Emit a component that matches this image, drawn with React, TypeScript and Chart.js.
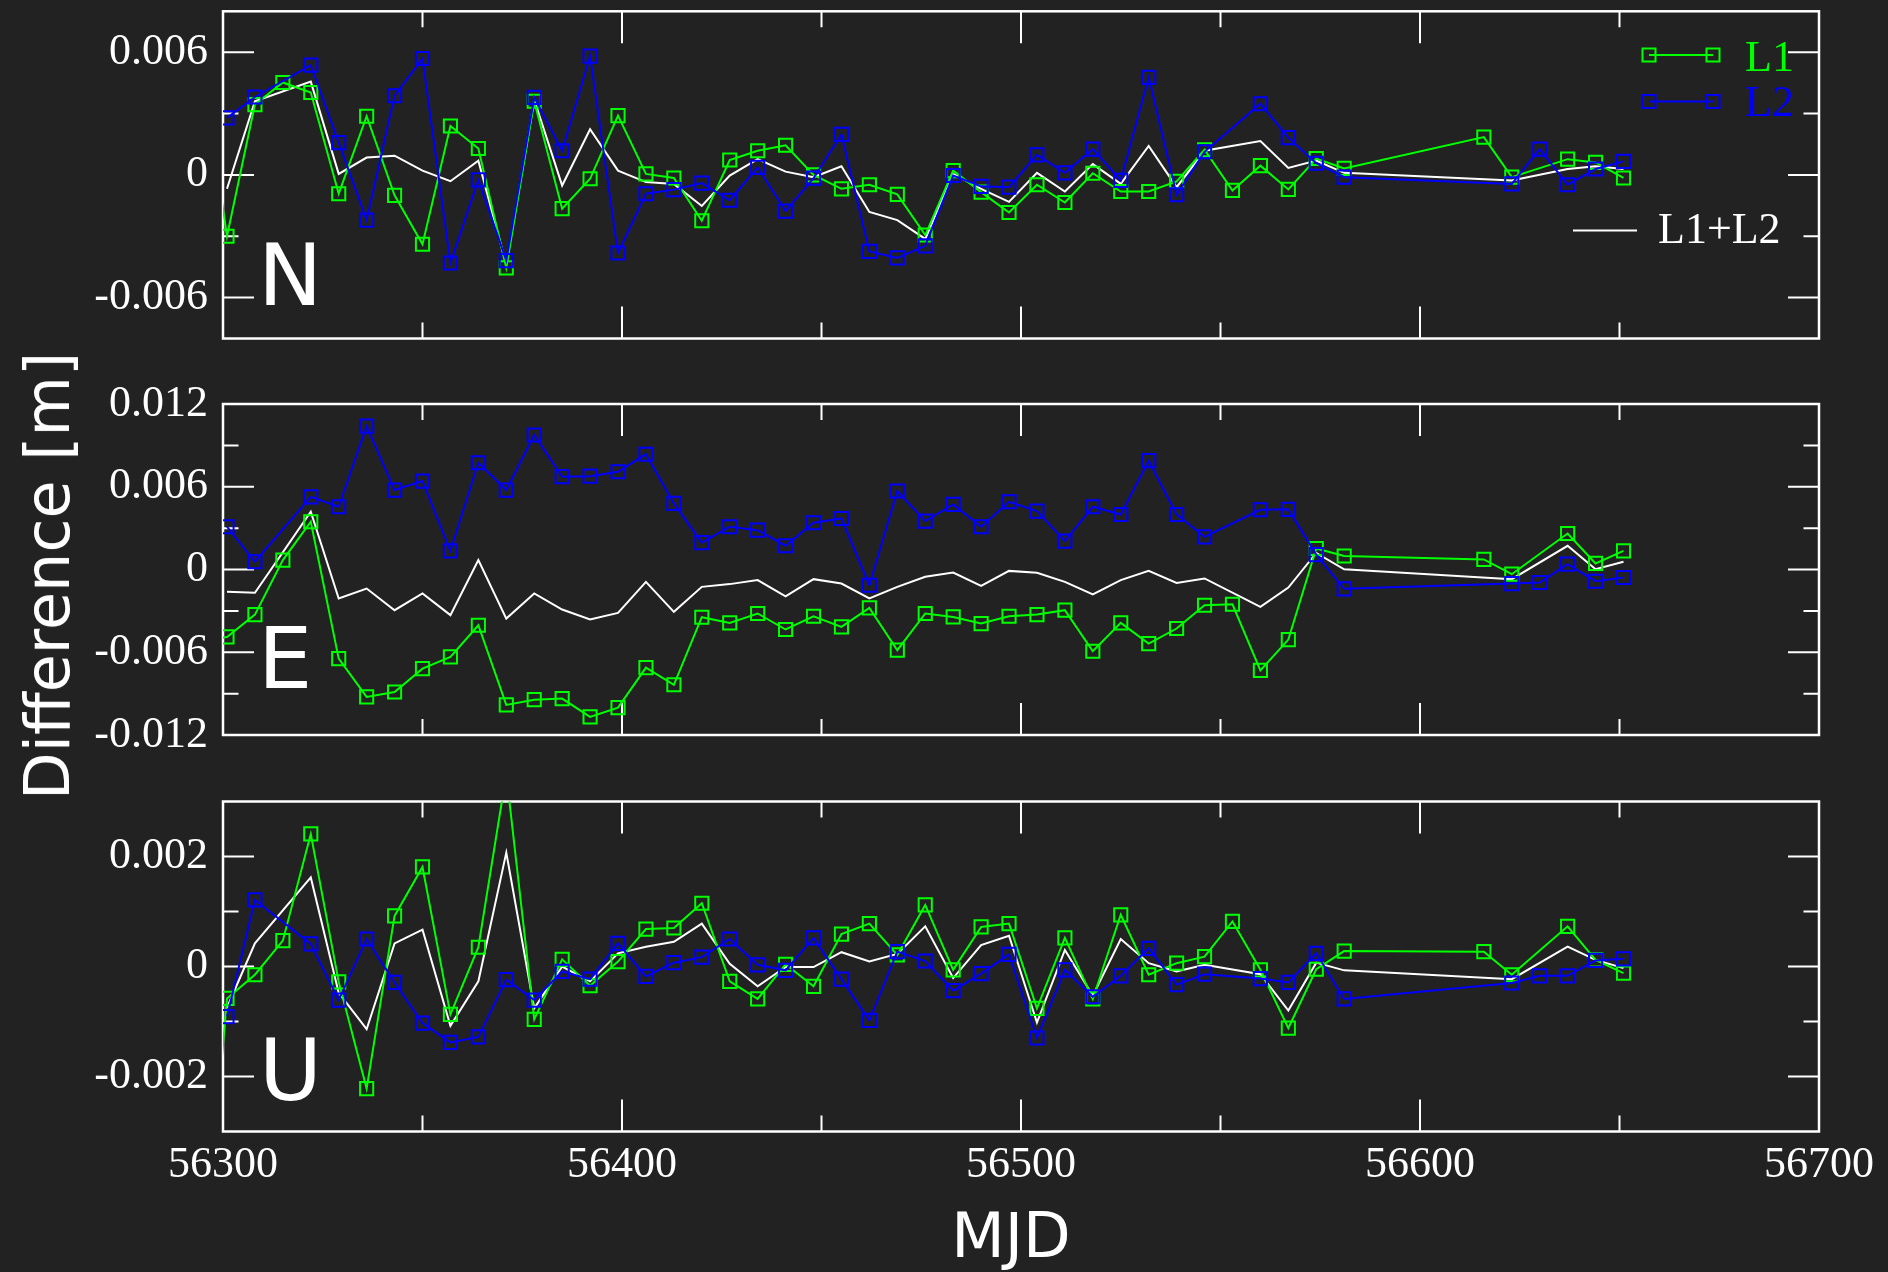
import React, { useEffect, useRef } from "react";
import { Chart, registerables } from "chart.js";

Chart.register(...registerables);

// ---------- data ----------
// epochs (MJD); first one lies just left of the plotted range
const MJD = [
  56294,
  56301, 56308, 56315, 56322, 56329, 56336, 56343, 56350, 56357, 56364,
  56371, 56378, 56385, 56392, 56399, 56406, 56413, 56420, 56427, 56434,
  56441, 56448, 56455, 56462, 56469, 56476, 56483, 56490, 56497, 56504,
  56511, 56518, 56525, 56532, 56539, 56546, 56553, 56560, 56567, 56574,
  56581,
  56616, 56623, 56630, 56637, 56644, 56651,
];

// North component [m]
const N_L1 = [
  0.0065,
  -0.0030, 0.00344, 0.00452, 0.00403, -0.00092, 0.00287, -0.00100, -0.00339, 0.00239, 0.00129,
  -0.00455, 0.00360, -0.00165, -0.00019, 0.00290, 0.00005, -0.00015, -0.00224, 0.00073, 0.00118,
  0.00145, 0.00000, -0.00068, -0.00048, -0.00095, -0.00294, 0.00021, -0.00084, -0.00184, -0.00048,
  -0.00135, 0.00008, -0.00081, -0.00081, -0.00032, 0.00123, -0.00076, 0.00045, -0.00071, 0.00080,
  0.00032,
  0.00185, -0.00011, null, 0.00077, 0.00061, -0.00015,
];
const N_L2 = [
  null,
  0.00279, 0.00381, null, 0.00537, 0.00158, -0.00221, 0.00387, 0.00569, -0.00431, -0.00024,
  -0.00419, 0.00379, 0.00118, 0.00581, -0.00382, -0.00092, -0.00072, -0.00040, -0.00124, 0.00037,
  -0.00177, -0.00016, 0.00198, -0.00374, -0.00406, -0.00347, -0.00003, -0.00056, -0.00060, 0.00098,
  0.00010, 0.00126, -0.00027, 0.00477, -0.00097, 0.00113, null, 0.00348, 0.00182, 0.00057,
  -0.00011,
  null, -0.00044, 0.00126, -0.00048, 0.00029, 0.00066,
];
const N_C = [
  null,
  -0.00068, 0.00360, null, 0.00456, 0.00005, 0.00085, 0.00094, 0.00021, -0.00031, 0.00069,
  -0.00439, 0.00368, -0.00052, 0.00223, 0.00021, -0.00035, -0.00044, -0.00152, -0.00003, 0.00077,
  0.00016, -0.00011, 0.00042, -0.00181, -0.00221, -0.00313, 0.00005, -0.00068, -0.00132, 0.00010,
  -0.00081, 0.00053, -0.00044, 0.00142, -0.00060, 0.00118, null, 0.00166, 0.00034, 0.00070,
  0.00010,
  null, -0.00027, null, 0.00029, 0.00042, 0.00029,
];

// East component [m]
const E_L1 = [
  -0.0052,
  -0.00489, -0.00327, 0.00068, 0.00346, -0.00646, -0.00924, -0.00888, -0.00719, -0.00634, -0.00404,
  -0.00982, -0.00944, -0.00936, -0.01069, -0.01002, -0.00711, -0.00836, -0.00346, -0.00387, -0.00319,
  -0.00435, -0.00339, -0.00416, -0.00278, -0.00585, -0.00319, -0.00344, -0.00392, -0.00339, -0.00327,
  -0.00295, -0.00593, -0.00387, -0.00537, -0.00428, -0.00259, -0.00252, -0.00731, -0.00508, 0.00152,
  0.00098,
  0.00073, -0.00034, null, 0.00261, 0.00044, 0.00135,
];
const E_L2 = [
  null,
  0.00310, 0.00056, null, 0.00527, 0.00455, 0.01040, 0.00576, 0.00641, 0.00135, 0.00774,
  0.00576, 0.00975, 0.00673, 0.00677, 0.00709, 0.00836, 0.00479, 0.00195, 0.00310, 0.00285,
  0.00172, 0.00339, 0.00370, -0.00114, 0.00569, 0.00351, 0.00472, 0.00310, 0.00491, 0.00423,
  0.00206, 0.00455, 0.00399, 0.00789, 0.00399, 0.00237, null, 0.00433, 0.00436, 0.00108,
  -0.00140,
  null, -0.00102, -0.00094, 0.00039, -0.00085, -0.00058,
];
const E_C = [
  null,
  -0.00162, -0.00169, null, 0.00419, -0.00210, -0.00138, -0.00295, -0.00174, -0.00331, 0.00068,
  -0.00356, -0.00174, -0.00290, -0.00363, -0.00315, -0.00090, -0.00307, -0.00126, -0.00106, -0.00077,
  -0.00194, -0.00070, -0.00102, -0.00210, -0.00126, -0.00053, -0.00022, -0.00119, -0.00010, -0.00024,
  -0.00090, -0.00181, -0.00077, -0.00010, -0.00097, -0.00065, null, -0.00271, -0.00131, 0.00120,
  0.00001,
  null, -0.00070, null, 0.00172, 0.00002, 0.00056,
];

// Up component [m]
const U_L1 = [
  -0.0065,
  -0.00058, -0.00015, 0.00047, 0.00241, -0.00028, -0.00222, 0.00092, 0.00181, -0.00087, 0.00035,
  0.00350, -0.00096, 0.00013, -0.00035, 0.00009, 0.00068, 0.00070, 0.00115, -0.00027, -0.00059,
  0.00004, -0.00036, 0.00059, 0.00078, 0.00021, 0.00112, -0.00006, 0.00072, 0.00078, -0.00076,
  0.00052, -0.00059, 0.00094, -0.00015, 0.00006, 0.00018, 0.00082, -0.00006, -0.00112, -0.00005,
  0.00028,
  0.00027, -0.00015, null, 0.00073, 0.00012, -0.00012,
];
const U_L2 = [
  null,
  -0.00091, 0.00121, null, 0.00041, -0.00061, 0.00050, -0.00029, -0.00103, -0.00138, -0.00128,
  -0.00024, -0.00061, -0.00009, -0.00023, 0.00042, -0.00018, 0.00007, 0.00017, 0.00050, 0.00003,
  -0.00007, 0.00052, -0.00023, -0.00098, 0.00027, 0.00010, -0.00044, -0.00013, 0.00022, -0.00130,
  -0.00006, -0.00055, -0.00017, 0.00033, -0.00033, -0.00014, null, -0.00022, -0.00029, 0.00024,
  -0.00059,
  null, -0.00030, -0.00017, -0.00017, 0.00011, 0.00014,
];
const U_C = [
  null,
  -0.00075, 0.00042, null, 0.00162, -0.00048, -0.00114, 0.00042, 0.00067, -0.00108, -0.00027,
  0.00207, -0.00076, 0.00000, -0.00027, 0.00024, 0.00036, 0.00045, 0.00078, 0.00005, -0.00036,
  -0.00001, -0.00001, 0.00026, 0.00009, 0.00023, 0.00073, -0.00021, 0.00039, 0.00056, -0.00102,
  0.00030, -0.00053, 0.00050, 0.00006, -0.00009, 0.00003, null, -0.00014, -0.00080, 0.00007,
  -0.00007,
  null, -0.00023, null, 0.00036, 0.00012, -0.00003,
];

// axes
const X_MIN = 56300;
const X_MAX = 56700;
const X_TICKS = [56300, 56400, 56500, 56600, 56700];
const X_TICK_LABELS = ["56300", "56400", "56500", "56600", "56700"];
const X_MINOR = [56350, 56450, 56550, 56650];

const N_TICKS = [-0.006, 0, 0.006];
const N_TICK_LABELS = ["-0.006", "0", "0.006"];
const N_MINOR = [-0.003, 0.003];
const E_TICKS = [-0.012, -0.006, 0, 0.006, 0.012];
const E_TICK_LABELS = ["-0.012", "-0.006", "0", "0.006", "0.012"];
const E_MINOR = [-0.009, -0.003, 0.003, 0.009];
const U_TICKS = [-0.002, 0, 0.002];
const U_TICK_LABELS = ["-0.002", "0", "0.002"];
const U_MINOR = [-0.001, 0.001];

const SERIES_NAMES = ["L1", "L2", "L1+L2"];

// ---------- styles / layout ----------
const BG = "#222222";
const GREEN = "#00ff00";
const BLUE = "#0000ff";
const WHITE = "#ffffff";
const SERIF = "'Liberation Serif', 'Times New Roman', serif";
const SANS = "'DejaVu Sans', Verdana, sans-serif";

const W = 1888;
const PLOT_LEFT = 223;
const PLOT_RIGHT = 1819;

type PanelCfg = {
  letter: string;
  l1: (number | null)[];
  l2: (number | null)[];
  c: (number | null)[];
  min: number;
  max: number;
  ticks: number[];
  labels: string[];
  minor: number[];
  top: number;
  height: number;
  padTop: number;
  padBottom: number;
  xAxis: boolean;
  letterX: number;
  letterY: number;
  legend: boolean;
};

const PANELS: PanelCfg[] = [
  {
    letter: "N", l1: N_L1, l2: N_L2, c: N_C, min: -0.008, max: 0.008,
    ticks: N_TICKS, labels: N_TICK_LABELS, minor: N_MINOR,
    top: 0, height: 370, padTop: 7, padBottom: 31.5, xAxis: false,
    letterX: 258, letterY: 305, legend: true,
  },
  {
    letter: "E", l1: E_L1, l2: E_L2, c: E_C, min: -0.012, max: 0.012,
    ticks: E_TICKS, labels: E_TICK_LABELS, minor: E_MINOR,
    top: 370, height: 400, padTop: 34, padBottom: 35, xAxis: false,
    letterX: 258, letterY: 688, legend: false,
  },
  {
    letter: "U", l1: U_L1, l2: U_L2, c: U_C, min: -0.003, max: 0.003,
    ticks: U_TICKS, labels: U_TICK_LABELS, minor: U_MINOR,
    top: 770, height: 502, padTop: 31.5, padBottom: 0, xAxis: true,
    letterX: 259, letterY: 1100, legend: false,
  },
];

const X_AXIS_HEIGHT = 502 - 361.5;

function makeFramePlugin(p: PanelCfg) {
  return {
    id: "graceFrame" + p.letter,
    beforeDatasetsDraw(chart: any) {
      const { ctx, chartArea: a, scales } = chart;
      const xs = scales.x;
      const ys = scales.y;
      ctx.save();
      ctx.strokeStyle = WHITE;
      ctx.lineWidth = 2;
      ctx.beginPath();
      const xt = (vals: number[], len: number) => {
        for (const v of vals) {
          const px = xs.getPixelForValue(v);
          ctx.moveTo(px, a.bottom);
          ctx.lineTo(px, a.bottom - len);
          ctx.moveTo(px, a.top);
          ctx.lineTo(px, a.top + len);
        }
      };
      const yt = (vals: number[], len: number) => {
        for (const v of vals) {
          const py = ys.getPixelForValue(v);
          ctx.moveTo(a.left, py);
          ctx.lineTo(a.left + len, py);
          ctx.moveTo(a.right, py);
          ctx.lineTo(a.right - len, py);
        }
      };
      xt(X_TICKS, 32);
      xt(X_MINOR, 16);
      yt(p.ticks, 31);
      yt(p.minor, 15.5);
      ctx.stroke();
      ctx.lineWidth = 2.5;
      ctx.strokeRect(a.left, a.top, a.right - a.left, a.bottom - a.top);
      ctx.restore();
    },
    afterDatasetsDraw(chart: any) {
      const { ctx } = chart;
      ctx.save();
      ctx.fillStyle = WHITE;
      ctx.textBaseline = "alphabetic";
      ctx.textAlign = "left";
      ctx.font = `86px ${SANS}`;
      ctx.fillText(p.letter, p.letterX, p.letterY - p.top);
      if (p.legend) {
        const row = (y: number, color: string, text: string, baseline: number, markers: boolean, x0: number, x1: number, tx: number) => {
          ctx.strokeStyle = color;
          ctx.lineWidth = 2;
          ctx.beginPath();
          ctx.moveTo(x0, y);
          ctx.lineTo(x1, y);
          ctx.stroke();
          if (markers) {
            const s = 13;
            ctx.strokeRect(x0 - s / 2, y - s / 2, s, s);
            ctx.strokeRect(x1 - s / 2, y - s / 2, s, s);
          }
          ctx.fillStyle = color;
          ctx.font = `44px ${SERIF}`;
          ctx.fillText(text, tx, baseline);
        };
        row(55, GREEN, SERIES_NAMES[0], 70.5, true, 1649, 1713, 1745);
        row(101.5, BLUE, SERIES_NAMES[1], 116, true, 1649, 1713, 1745);
        row(230.5, WHITE, SERIES_NAMES[2], 242.5, false, 1573, 1637, 1658);
      }
      ctx.restore();
    },
  };
}

function dataset(label: string, ys: (number | null)[], color: string, markers: boolean) {
  return {
    label,
    data: MJD.map((x, i) => ({ x, y: ys[i] })),
    borderColor: color,
    backgroundColor: color,
    borderWidth: 2,
    pointStyle: "rect",
    pointRadius: markers ? 9.3 : 0,
    pointHoverRadius: markers ? 9.3 : 0,
    pointBorderWidth: 2,
    pointBorderColor: color,
    pointBackgroundColor: "rgba(0,0,0,0)",
    spanGaps: true,
    tension: 0,
  };
}

function buildChart(canvas: HTMLCanvasElement, p: PanelCfg) {
  const serifFont = { family: SERIF, size: 44 };
  const zeroPad = (s: any) => {
    s.paddingTop = 0;
    s.paddingBottom = 0;
    s.paddingLeft = 0;
    s.paddingRight = 0;
  };
  const xScale: any = {
    type: "linear",
    min: X_MIN,
    max: X_MAX,
    display: p.xAxis,
    position: "bottom",
    grid: { display: false, drawTicks: false },
    border: { display: false },
    afterBuildTicks: (s: any) => {
      s.ticks = X_TICKS.map((v) => ({ value: v }));
    },
    afterFit: (s: any) => {
      s.height = p.xAxis ? X_AXIS_HEIGHT : 0;
      zeroPad(s);
    },
    ticks: {
      color: WHITE,
      font: serifFont,
      padding: 8,
      autoSkip: false,
      maxRotation: 0,
      minRotation: 0,
      callback: (_v: any, i: number) => X_TICK_LABELS[i],
    },
  };
  const yScale: any = {
    type: "linear",
    min: p.min,
    max: p.max,
    position: "left",
    grid: { display: false, drawTicks: false },
    border: { display: false },
    afterBuildTicks: (s: any) => {
      s.ticks = p.ticks.map((v) => ({ value: v }));
    },
    afterFit: (s: any) => {
      s.width = PLOT_LEFT;
      zeroPad(s);
    },
    ticks: {
      color: WHITE,
      font: serifFont,
      padding: 15,
      autoSkip: false,
      callback: (_v: any, i: number) => p.labels[i],
    },
  };
  return new Chart(canvas, {
    type: "line",
    data: {
      datasets: [
        dataset(SERIES_NAMES[1], p.l2, BLUE, true),
        dataset(SERIES_NAMES[0], p.l1, GREEN, true),
        dataset(SERIES_NAMES[2], p.c, WHITE, false),
      ] as any,
    },
    options: {
      responsive: false,
      animation: false,
      devicePixelRatio: 1,
      events: [],
      layout: {
        padding: { left: 0, right: W - PLOT_RIGHT, top: p.padTop, bottom: p.padBottom },
      },
      plugins: {
        legend: { display: false },
        tooltip: { enabled: false },
      },
      scales: { x: xScale, y: yScale },
    } as any,
    plugins: [makeFramePlugin(p)],
  });
}

export default function App() {
  const r0 = useRef<HTMLCanvasElement>(null);
  const r1 = useRef<HTMLCanvasElement>(null);
  const r2 = useRef<HTMLCanvasElement>(null);
  const refs = [r0, r1, r2];

  useEffect(() => {
    const charts = PANELS.map((p, i) => buildChart(refs[i].current as HTMLCanvasElement, p));
    return () => charts.forEach((c) => c.destroy());
  }, []);

  return (
    <div
      style={{
        position: "absolute",
        left: 0,
        top: 0,
        width: W,
        height: 1272,
        background: BG,
        overflow: "hidden",
      }}
    >
      {PANELS.map((p, i) => (
        <canvas
          key={p.letter}
          ref={refs[i]}
          width={W}
          height={p.height}
          style={{ position: "absolute", left: 0, top: p.top, width: W, height: p.height }}
        />
      ))}
      <div
        style={{
          position: "absolute",
          left: 48,
          top: 576,
          transform: "translate(-50%, -50%) rotate(-90deg)",
          fontFamily: SANS,
          fontSize: 62,
          lineHeight: 1,
          color: WHITE,
          whiteSpace: "nowrap",
        }}
      >
        Difference [m]
      </div>
      <div
        style={{
          position: "absolute",
          left: 1011,
          top: 1236,
          transform: "translate(-50%, -50%)",
          fontFamily: SANS,
          fontSize: 62,
          lineHeight: 1,
          color: WHITE,
          whiteSpace: "nowrap",
        }}
      >
        MJD
      </div>
    </div>
  );
}
